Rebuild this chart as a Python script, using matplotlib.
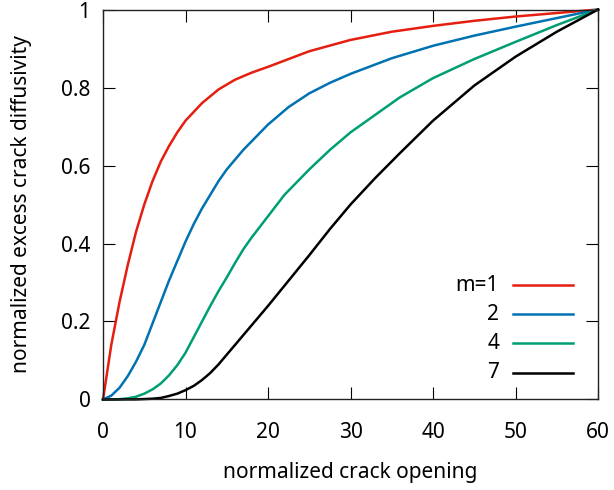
import matplotlib
matplotlib.use("Agg")
import matplotlib.pyplot as plt
from matplotlib.ticker import FormatStrFormatter

plt.rcParams['font.family'] = ['Noto Sans', 'DejaVu Sans']

# values
x_m1 = [0, 1, 2, 3, 4, 5, 6, 7, 8, 9, 10, 12, 14, 16, 18, 20, 25, 30, 35, 40, 45, 50, 55, 60]
y_m1 = [0, 0.14, 0.25, 0.345, 0.43, 0.50, 0.56, 0.61, 0.65, 0.685, 0.715, 0.76, 0.795,
        0.82, 0.838, 0.853, 0.893, 0.922, 0.943, 0.958, 0.971, 0.982, 0.991, 1.0]

x_m2 = [0, 1, 2, 3, 4, 5, 6, 7, 8, 9, 10, 11, 12, 13, 14, 15, 17, 20, 22.5, 25, 27.5,
        30, 35, 40, 45, 50, 55, 60]
y_m2 = [0, 0.01, 0.03, 0.06, 0.097, 0.14, 0.195, 0.25, 0.305, 0.355, 0.405, 0.45, 0.49,
        0.525, 0.56, 0.59, 0.64, 0.705, 0.75, 0.785, 0.812, 0.835, 0.875, 0.907, 0.933,
        0.956, 0.978, 1.0]

x_m4 = [0, 2, 3, 4, 5, 6, 7, 8, 9, 10, 11, 12, 13, 14, 15, 16, 17, 18, 20, 22, 25, 27.5,
        30, 33, 36, 40, 45, 50, 55, 60]
y_m4 = [0, 0.0008, 0.003, 0.007, 0.015, 0.026, 0.041, 0.062, 0.088, 0.12, 0.16, 0.2,
        0.24, 0.278, 0.313, 0.35, 0.385, 0.415, 0.47, 0.525, 0.59, 0.64, 0.685, 0.73,
        0.775, 0.824, 0.873, 0.917, 0.96, 1.0]

x_m7 = [0, 4, 6, 7, 8, 9, 10, 11, 12, 13, 14, 15, 16, 17, 18, 20, 22.5, 25, 27.5, 30,
        33, 36, 40, 45, 50, 55, 60]
y_m7 = [0, 0.0003, 0.002, 0.004, 0.009, 0.015, 0.024, 0.035, 0.05, 0.068, 0.09, 0.115,
        0.14, 0.165, 0.19, 0.24, 0.305, 0.37, 0.437, 0.5, 0.568, 0.632, 0.715, 0.805,
        0.879, 0.943, 1.0]

labels = ['m=1', '2', '4', '7']
colors = ['#e51e10', '#0072b2', '#009e73', '#000000']
series = [(x_m1, y_m1), (x_m2, y_m2), (x_m4, y_m4), (x_m7, y_m7)]

fs = 15

fig = plt.figure(figsize=(6.14, 4.90), dpi=100)
ax = fig.add_axes([0.1678, 0.1847, 0.8062, 0.7959])

for (xs, ys), c in zip(series, colors):
    ax.plot(xs, ys, color=c, lw=1.8, solid_joinstyle='round', clip_on=False)

# legend drawn by hand: right aligned labels, sample line on the right
for i, (lab, c) in enumerate(zip(labels, colors)):
    yk = 0.293 - i * 0.0747
    ax.text(0.800, yk, lab, transform=ax.transAxes, ha='right', va='center', fontsize=fs)
    ax.plot([0.828, 0.949], [yk, yk], color=c, lw=1.8, transform=ax.transAxes)

ax.set_xlim(0, 60)
ax.set_ylim(0, 1)
ax.set_xticks(range(0, 61, 10))
ax.set_yticks([0, 0.2, 0.4, 0.6, 0.8, 1.0])
ax.yaxis.set_major_formatter(FormatStrFormatter('%g'))
ax.tick_params(direction='in', length=8.5, width=0.8, top=True, right=True,
               labelsize=fs)
ax.tick_params(axis='x', pad=16)
ax.tick_params(axis='y', pad=9)
for s in ax.spines.values():
    s.set_linewidth(1.0)
    s.set_color('#222222')

ax.set_xlabel('normalized crack opening', fontsize=fs, labelpad=14)
ax.set_ylabel('normalized excess crack diffusivity', fontsize=fs, labelpad=21)

fig.savefig('out.png', dpi=100)
